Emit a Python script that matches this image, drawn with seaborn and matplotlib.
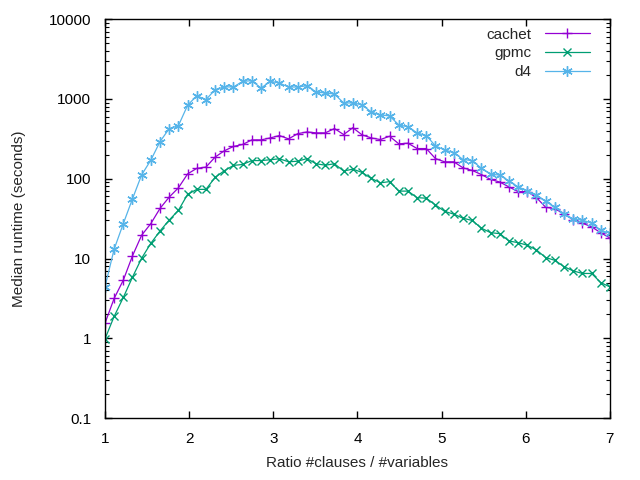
import matplotlib
matplotlib.use("Agg")
import matplotlib.pyplot as plt
import seaborn as sns
import numpy as np
import pandas as pd
from matplotlib.ticker import FixedLocator, FixedFormatter, LogLocator, NullFormatter

ratio = [1.0, 1.109, 1.218, 1.327, 1.436, 1.545, 1.655, 1.764, 1.873, 1.982,
         2.091, 2.2, 2.309, 2.418, 2.527, 2.636, 2.745, 2.855, 2.964, 3.073,
         3.182, 3.291, 3.4, 3.509, 3.618, 3.727, 3.836, 3.945, 4.055, 4.164,
         4.273, 4.382, 4.491, 4.6, 4.709, 4.818, 4.927, 5.036, 5.145, 5.255,
         5.364, 5.473, 5.582, 5.691, 5.8, 5.909, 6.018, 6.127, 6.236, 6.345,
         6.455, 6.564, 6.673, 6.782, 6.891, 7.0]

cachet = [1.54, 3.16, 5.36, 10.8, 19.6, 27.4, 42.6, 59, 77, 115,
          135, 140, 187, 224, 254, 269, 307, 307, 325, 348,
          316, 368, 386, 376, 376, 426, 358, 436, 355, 325,
          310, 341, 274, 279, 239, 239, 179, 163, 163, 137,
          127, 113, 98, 91, 79, 69, 69, 58, 44, 42,
          36.5, 30.4, 27.7, 25, 21, 18.1]

gpmc = [0.98, 1.88, 3.25, 5.84, 10.1, 15.5, 22.2, 30.4, 40.2, 63.7,
        73.6, 73.6, 104, 126, 147, 151, 169, 169, 173, 178,
        163, 166, 179, 154, 148, 154, 125, 132, 120, 101,
        89, 92, 70, 70, 58, 57, 47, 39, 36, 32,
        30, 24, 21.1, 20.5, 16.6, 15.8, 14.7, 12.8, 10.3, 9.5,
        7.9, 7.0, 6.5, 6.5, 5.0, 4.4]

d4 = [4.4, 13.1, 27.4, 56, 112, 171, 293, 426, 464, 833,
      1101, 981, 1310, 1420, 1412, 1663, 1694, 1371, 1663, 1585,
      1412, 1412, 1466, 1222, 1188, 1153, 891, 891, 845, 687,
      631, 613, 473, 447, 376, 348, 258, 230, 213, 174,
      169, 135, 114, 111, 94, 79, 71, 62, 52, 44,
      36.5, 31, 30.4, 27.7, 22.6, 20.7]

series_names = ["cachet", "gpmc", "d4"]
y_ticks = [0.1, 1, 10, 100, 1000, 10000]
y_tick_labels = ["0.1", "1", "10", "100", "1000", "10000"]
x_ticks = [1, 2, 3, 4, 5, 6, 7]

sns.set_style("ticks")
plt.rcParams['font.family'] = ['Liberation Sans', 'DejaVu Sans']
plt.rcParams['font.size'] = 11

fig = plt.figure(figsize=(6.4, 4.8), dpi=100)
ax = fig.add_axes([0.164, 0.129, 0.789, 0.831])

colors = ["#9400d3", "#009e73", "#56b4e9"]
markers = ["+", "x", (6, 2, 0)]
msizes = [7, 6, 7.5]
data = [cachet, gpmc, d4]

for name, vals, c, m, ms in zip(series_names, data, colors, markers, msizes):
    df = pd.DataFrame({"ratio": ratio, "runtime": vals})
    sns.lineplot(data=df, x="ratio", y="runtime", ax=ax, color=c, linewidth=0.9,
                 marker=m, markersize=ms, markeredgewidth=1.0, markeredgecolor=c,
                 label=name)

ax.set_yscale("log")
ax.set_xlim(1, 7)
ax.set_ylim(0.1, 10000)
ax.xaxis.set_major_locator(FixedLocator(x_ticks))
ax.yaxis.set_major_locator(FixedLocator(y_ticks))
ax.yaxis.set_major_formatter(FixedFormatter(y_tick_labels))
ax.yaxis.set_minor_locator(LogLocator(base=10, subs=np.arange(2, 10)))
ax.yaxis.set_minor_formatter(NullFormatter())
ax.tick_params(which="both", direction="in", top=True, right=True, colors="black",
               labelsize=11)
ax.tick_params(which="major", length=5, width=1)
ax.tick_params(which="minor", length=3, width=0.8)
ax.tick_params(axis="x", pad=10)
ax.tick_params(axis="y", pad=10)
for s in ax.spines.values():
    s.set_color("black")
    s.set_linewidth(1)

ax.set_xlabel("Ratio #clauses / #variables", fontsize=11)
ax.set_ylabel("Median runtime (seconds)", fontsize=11)
ax.xaxis.set_label_coords(0.5, -0.095)
ax.yaxis.set_label_coords(-0.156, 0.5)

leg = ax.legend(loc="upper right", frameon=False, markerfirst=False,
                handlelength=2.95, handletextpad=0.85, labelspacing=0.32,
                fontsize=11, borderaxespad=0, borderpad=0,
                bbox_to_anchor=(0.960, 0.979))

fig.savefig("out.png", dpi=100)
